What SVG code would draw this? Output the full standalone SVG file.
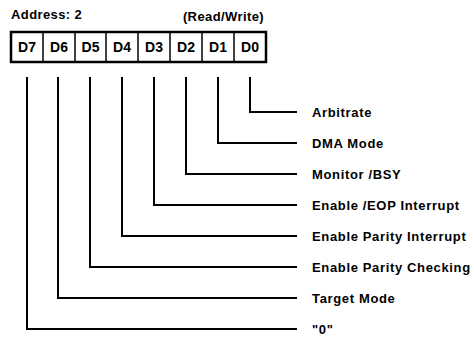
<svg xmlns="http://www.w3.org/2000/svg" width="474" height="339" viewBox="0 0 474 339">
<style>
text{font-family:"Liberation Sans",Arial,sans-serif;font-weight:bold;fill:#000}
.hdr{font-size:13px;letter-spacing:0.4px}
.cell{font-size:14px;text-anchor:middle}
.lbl{font-size:13px;letter-spacing:0.65px}
.wire{fill:none;stroke:#000;stroke-width:2}
.box{fill:#fff;stroke:#000;stroke-width:2.5}
.div{stroke:#000;stroke-width:1.5}
</style>
<rect width="474" height="339" fill="#fff"/>
<g id="header">
<text class="hdr" x="11" y="19">Address: 2</text>
<text class="hdr" x="264" y="21" text-anchor="end">(Read/Write)</text>
</g>
<g id="register">
<rect class="box" x="11" y="32" width="255" height="30"/>
<line class="div" x1="43" y1="32" x2="43" y2="62"/>
<line class="div" x1="75" y1="32" x2="75" y2="62"/>
<line class="div" x1="106" y1="32" x2="106" y2="62"/>
<line class="div" x1="138" y1="32" x2="138" y2="62"/>
<line class="div" x1="170" y1="32" x2="170" y2="62"/>
<line class="div" x1="202" y1="32" x2="202" y2="62"/>
<line class="div" x1="234" y1="32" x2="234" y2="62"/>
<text class="cell" x="27" y="52">D7</text>
<text class="cell" x="59" y="52">D6</text>
<text class="cell" x="90.5" y="52">D5</text>
<text class="cell" x="122" y="52">D4</text>
<text class="cell" x="154" y="52">D3</text>
<text class="cell" x="186" y="52">D2</text>
<text class="cell" x="218" y="52">D1</text>
<text class="cell" x="250" y="52">D0</text>
</g>
<g id="connectors">
<polyline class="wire" points="250,77 250,112 297,112"/>
<polyline class="wire" points="218,77 218,143 297,143"/>
<polyline class="wire" points="186,77 186,174 297,174"/>
<polyline class="wire" points="154,77 154,205 297,205"/>
<polyline class="wire" points="122,77 122,236 297,236"/>
<polyline class="wire" points="90,77 90,267 297,267"/>
<polyline class="wire" points="58,77 58,298 297,298"/>
<polyline class="wire" points="27,77 27,329 297,329"/>
</g>
<g id="bit0"><text class="lbl" x="312" y="117">Arbitrate</text></g>
<g id="bit1"><text class="lbl" x="312" y="148">DMA Mode</text></g>
<g id="bit2"><text class="lbl" x="312" y="179">Monitor /BSY</text></g>
<g id="bit3"><text class="lbl" x="312" y="210">Enable /EOP Interrupt</text></g>
<g id="bit4"><text class="lbl" x="312" y="241">Enable Parity Interrupt</text></g>
<g id="bit5"><text class="lbl" x="312" y="272">Enable Parity Checking</text></g>
<g id="bit6"><text class="lbl" x="312" y="303">Target Mode</text></g>
<g id="bit7"><text class="lbl" x="312" y="334">"0"</text></g>
</svg>
